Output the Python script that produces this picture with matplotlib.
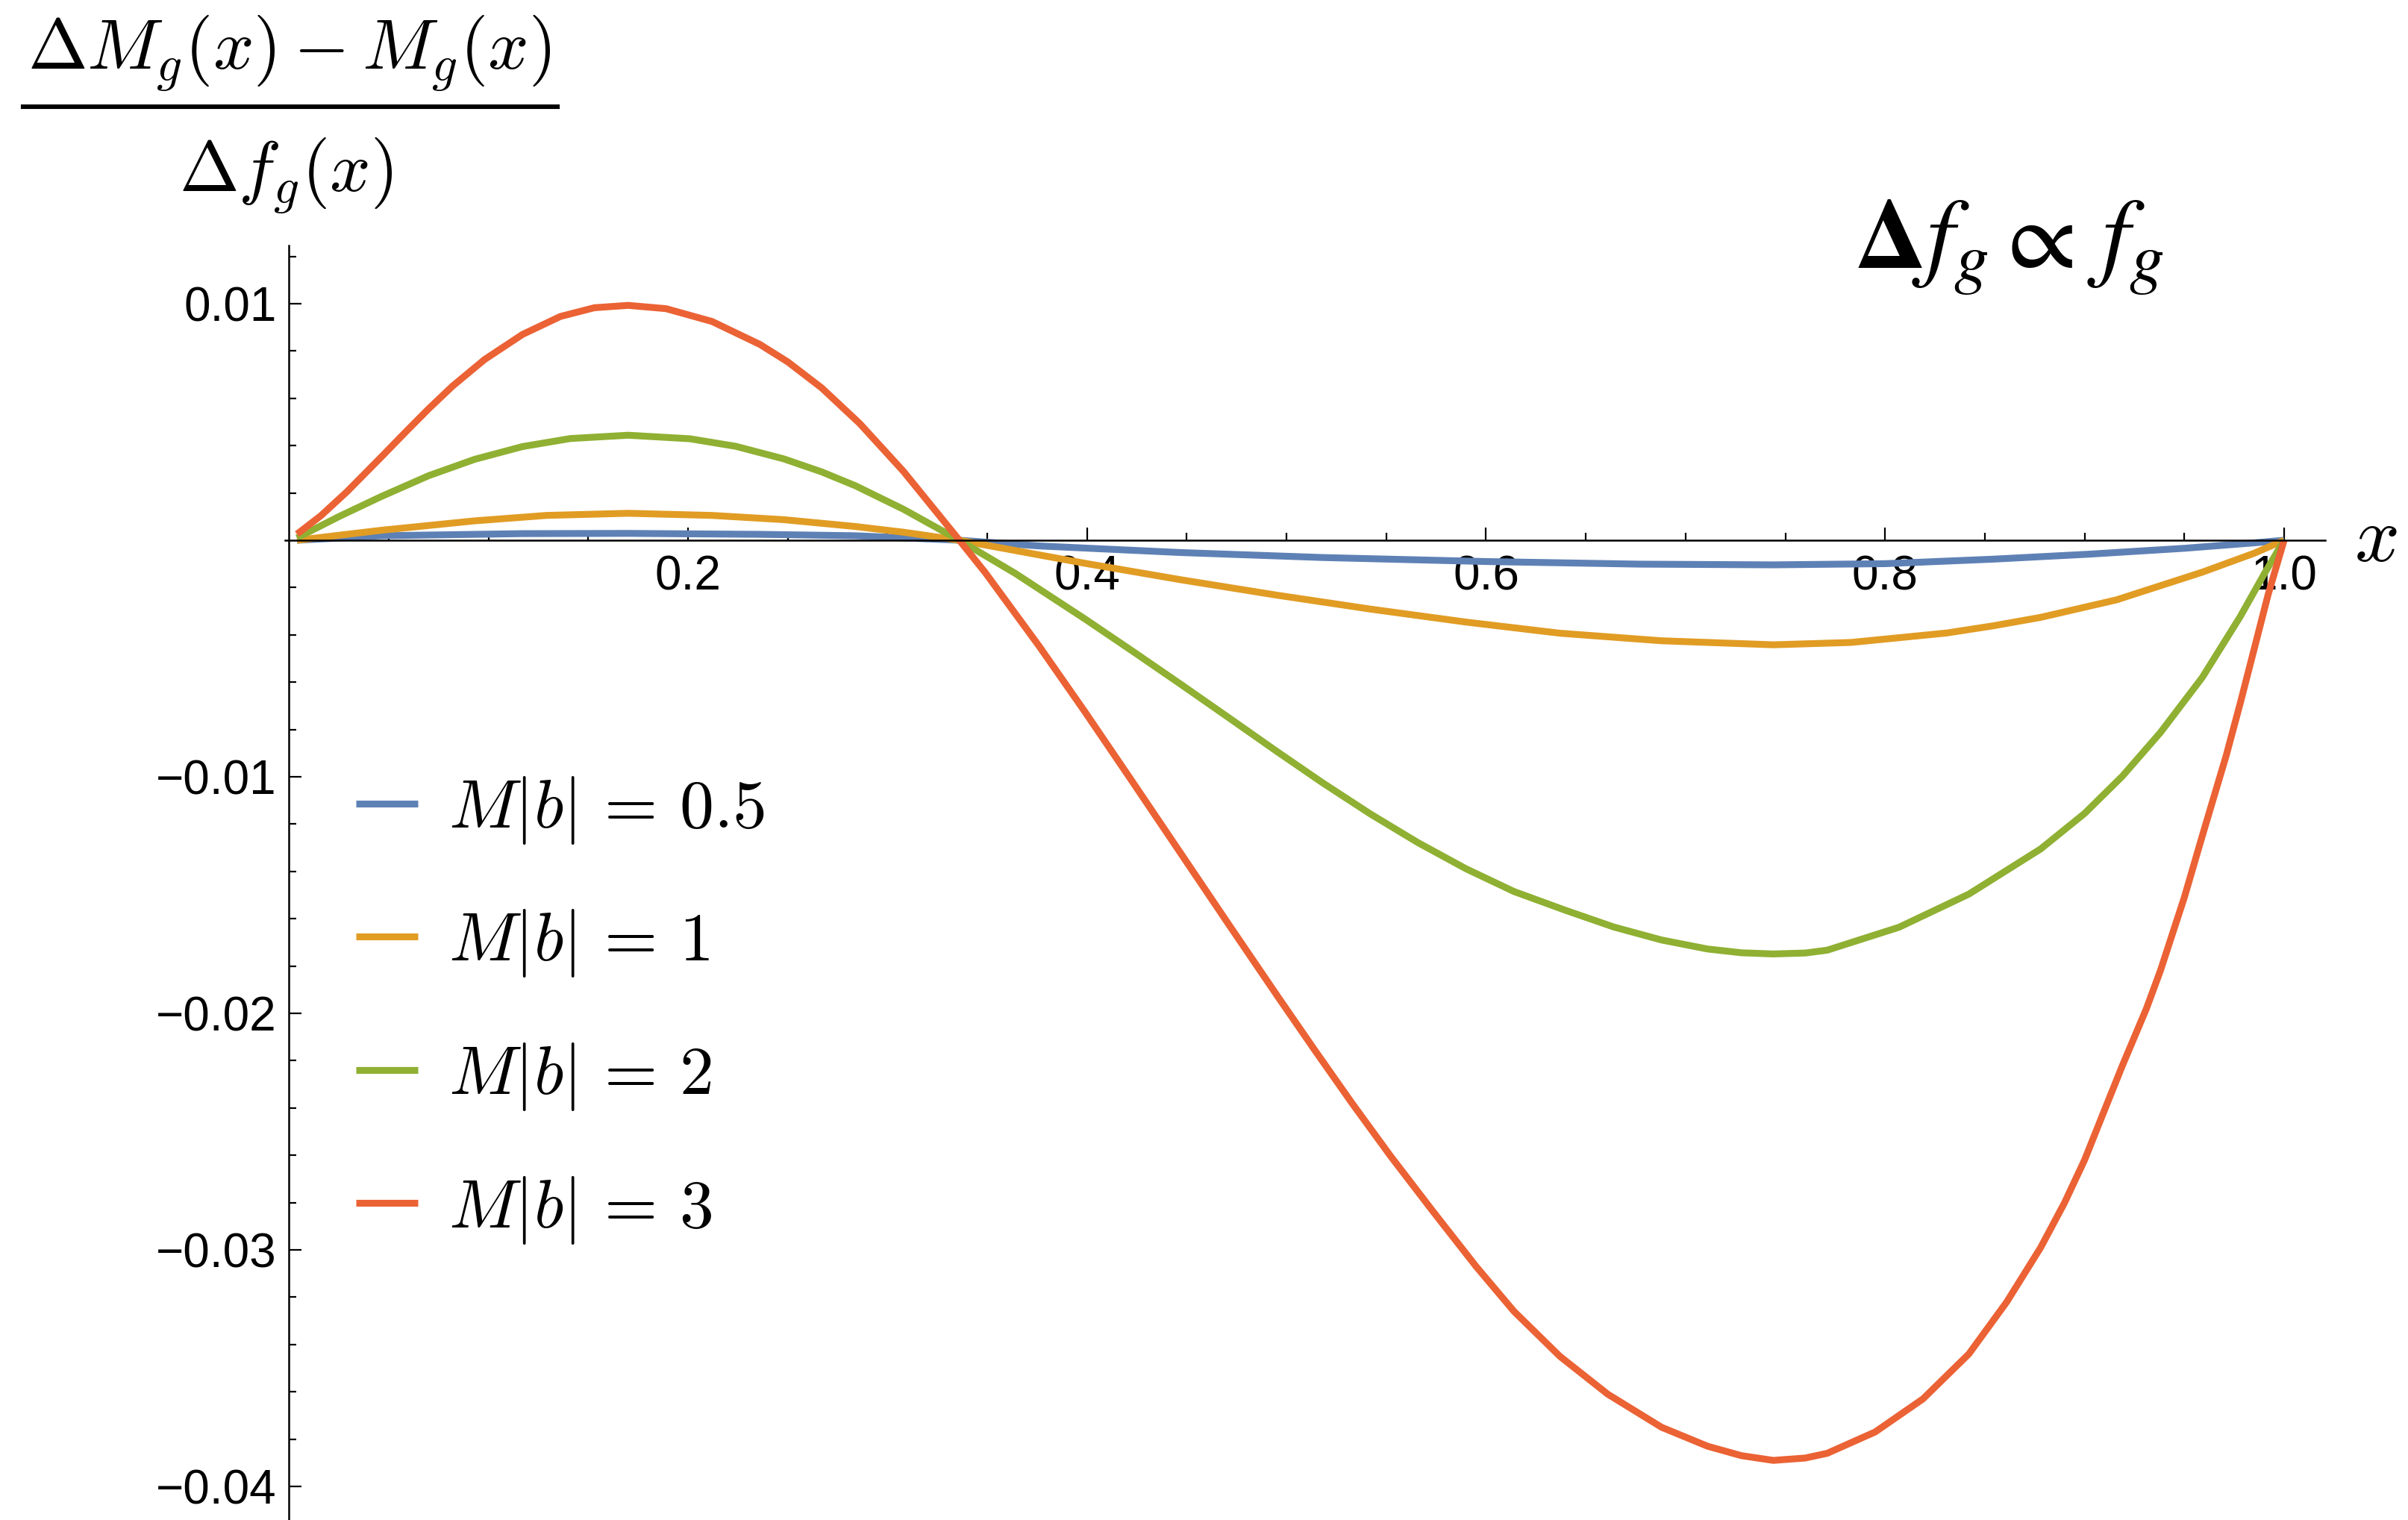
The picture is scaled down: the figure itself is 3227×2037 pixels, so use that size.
import matplotlib
matplotlib.use("Agg")
import matplotlib.pyplot as plt
from matplotlib.lines import Line2D
from matplotlib.ticker import FixedLocator

plt.rcParams['mathtext.fontset'] = 'cm'
plt.rcParams['font.family'] = ['Liberation Sans', 'DejaVu Sans']

# values
x_red = [0.004, 0.016, 0.029, 0.046, 0.058, 0.070, 0.082, 0.098, 0.117, 0.136, 0.153, 0.170,
         0.189, 0.212, 0.236, 0.250, 0.267, 0.286, 0.308, 0.336, 0.349, 0.376, 0.399, 0.423,
         0.447, 0.471, 0.496, 0.514, 0.533, 0.552, 0.573, 0.595, 0.614, 0.637, 0.661, 0.688,
         0.711, 0.728, 0.744, 0.760, 0.771, 0.795, 0.819, 0.842, 0.861, 0.878, 0.890, 0.900,
         0.909, 0.919, 0.931, 0.938, 0.950, 0.959, 0.971, 0.978, 0.985, 0.992, 1.000]
y_red = [0.00026, 0.00104, 0.00205, 0.0035, 0.00454, 0.00556, 0.00652, 0.00764, 0.0087,
         0.00946, 0.00983, 0.00993, 0.00979, 0.00925, 0.00828, 0.00754, 0.00644, 0.00494,
         0.00291, 0.0, -0.00137, -0.00448, -0.00726, -0.01024, -0.01324, -0.01624, -0.01934,
         -0.02154, -0.02382, -0.02602, -0.02833, -0.0307, -0.0326, -0.0345, -0.0361, -0.0375,
         -0.0383, -0.0387, -0.0389, -0.0388, -0.0386, -0.0377, -0.0363, -0.0344, -0.0322,
         -0.0299, -0.0280, -0.0262, -0.0243, -0.0222, -0.0198, -0.0182, -0.0151, -0.0125,
         -0.0091, -0.0069, -0.0046, -0.0023, 0.0]

x_green = [0.004, 0.025, 0.046, 0.070, 0.093, 0.117, 0.141, 0.170, 0.201, 0.224, 0.248, 0.267,
           0.284, 0.308, 0.336, 0.364, 0.399, 0.423, 0.447, 0.471, 0.495, 0.518, 0.542, 0.566,
           0.590, 0.614, 0.640, 0.664, 0.688, 0.711, 0.728, 0.744, 0.760, 0.771, 0.807, 0.842,
           0.878, 0.900, 0.919, 0.938, 0.959, 0.978, 0.990, 1.000]
y_green = [0.0001, 0.001, 0.00184, 0.00273, 0.00342, 0.00396, 0.0043, 0.00444, 0.00429,
           0.00397, 0.00344, 0.00289, 0.0023, 0.00131, 0.0, -0.0014, -0.00333, -0.0047,
           -0.00609, -0.0075, -0.00892, -0.01025, -0.01157, -0.01279, -0.01389, -0.01485,
           -0.01565, -0.01635, -0.0169, -0.01728, -0.01744, -0.01749, -0.01745, -0.01733,
           -0.01636, -0.01496, -0.01305, -0.01155, -0.00997, -0.00813, -0.0058, -0.00323,
           -0.00143, 0.0]

x_orange = [0.004, 0.046, 0.093, 0.129, 0.170, 0.212, 0.248, 0.284, 0.308, 0.336, 0.376, 0.400,
            0.447, 0.495, 0.542, 0.590, 0.637, 0.688, 0.744, 0.783, 0.831, 0.854, 0.878, 0.916,
            0.959, 0.985, 1.000]
y_orange = [0.0, 0.00042, 0.00082, 0.00105, 0.00114, 0.00105, 0.00087, 0.00058, 0.00034, 0.0,
            -0.00062, -0.00099, -0.00167, -0.00232, -0.00291, -0.00346, -0.00393, -0.00425,
            -0.00442, -0.00432, -0.00392, -0.00362, -0.00326, -0.00252, -0.00135, -0.00055, 0.0]

x_blue = [0.004, 0.046, 0.117, 0.170, 0.236, 0.284, 0.336, 0.376, 0.447, 0.518, 0.600, 0.677,
          0.744, 0.800, 0.854, 0.902, 0.950, 0.985, 1.000]
y_blue = [0.0, 0.00019, 0.00028, 0.00029, 0.00025, 0.00019, 0.0, -0.00024, -0.00052, -0.00073,
          -0.0009, -0.00101, -0.00104, -0.00099, -0.0008, -0.00059, -0.00034, -0.00011, 0.0]

labels = [r'$M|b|\,=\,0.5$', r'$M|b|\,=\,1$', r'$M|b|\,=\,2$', r'$M|b|\,=\,3$']
colors = ['#5E81B5', '#E19C24', '#8FB032', '#EB6235']

x_major = [0.2, 0.4, 0.6, 0.8, 1.0]
x_major_labels = ['0.2', '0.4', '0.6', '0.8', '1.0']
y_major = [0.01, -0.01, -0.02, -0.03, -0.04]
y_major_labels = ['0.01', '\u22120.01', '\u22120.02', '\u22120.03', '\u22120.04']

W, H = 3227, 2037
fig = plt.figure(figsize=(W / 200, H / 200), dpi=200)
ax = fig.add_axes([382 / W, 0, 2734 / W, (H - 329) / H])

series = [(x_blue, y_blue), (x_orange, y_orange), (x_green, y_green), (x_red, y_red)]
for (xs, ys), c, lab in zip(series, colors, labels):
    ax.plot(xs, ys, color=c, lw=3.3, label=lab, solid_capstyle='butt', solid_joinstyle='round')

ax.set_xlim(-0.002, 1.0206)
ax.set_ylim(-0.04142, 0.012461)

for s in ['top', 'right']:
    ax.spines[s].set_visible(False)
ax.spines['left'].set_position(('data', 0))
ax.spines['bottom'].set_position(('data', 0))
ax.spines['left'].set_linewidth(0.9)
ax.spines['bottom'].set_linewidth(0.9)

ax.xaxis.set_major_locator(FixedLocator(x_major))
ax.set_xticklabels(x_major_labels)
ax.xaxis.set_minor_locator(FixedLocator([0.05 * i for i in range(1, 20) if i % 4 != 0]))
ax.yaxis.set_major_locator(FixedLocator(y_major))
ax.set_yticklabels(y_major_labels)
ax.yaxis.set_minor_locator(FixedLocator([0.002 * i for i in range(-20, 7) if i % 5 != 0]))

ax.tick_params(axis='both', which='both', direction='in', width=0.8, labelsize=23)
ax.tick_params(axis='both', which='major', length=6.2)
ax.tick_params(axis='both', which='minor', length=3.6)
ax.tick_params(axis='x', which='major', pad=7)
ax.tick_params(axis='y', which='major', pad=6)

ax.legend(loc='upper left', bbox_to_anchor=(477 / W, 1 - 1038 / H), bbox_transform=fig.transFigure,
          frameon=False, fontsize=33, handlelength=0.9, handletextpad=0.45, labelspacing=0.9,
          borderpad=0, borderaxespad=0)

# y label as a stacked fraction
fig.text(388 / W, 1 - 93 / H, r'$\Delta M_g(x) - M_g(x)$', ha='center', va='baseline', fontsize=34.5)
fig.text(383 / W, 1 - 257 / H, r'$\Delta f_g(x)$', ha='center', va='baseline', fontsize=34.5)
fig.add_artist(Line2D([31 / W, 747 / W], [1 - 143 / H] * 2, lw=2.2, color='black',
                      transform=fig.transFigure))

fig.text(3155 / W, 1 - 752 / H, r'$x$', ha='left', va='baseline', fontsize=38)
fig.text(2485 / W, 1 - 359 / H, r'$\mathbf{\Delta} f_g \propto\, f_g$', ha='left', va='baseline',
         fontsize=48, math_fontfamily='stix')

fig.savefig('out.png', dpi=200)
